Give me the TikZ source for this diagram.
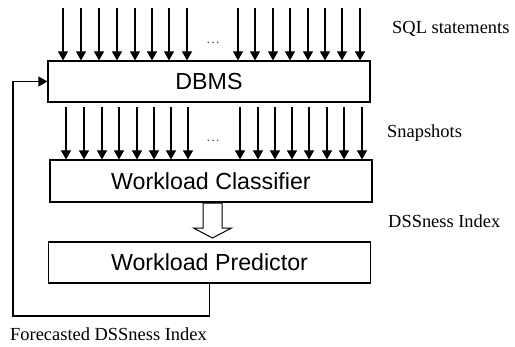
\documentclass[tikz,border=0pt]{standalone}
\usepackage{fontspec}
\setmainfont{Liberation Serif}
\newfontfamily\boxfont{Liberation Sans}
\usetikzlibrary{arrows.meta}
\tikzset{
  box/.style={draw, line width=1.2bp, minimum width=322bp, minimum height=41bp, inner sep=0pt, font=\boxfont\fontsize{23.3}{27}\selectfont},
  arr/.style={line width=1.1bp, -{Triangle[width=10bp,length=9bp]}},
  lbl/.style={anchor=base west, inner sep=0pt, font=\fontsize{18.5}{22}\selectfont},
  dots/.style={inner sep=0pt, text=black!70, font=\fontsize{14}{16}\selectfont}
}
\begin{document}
\begin{tikzpicture}[x=1bp,y=-1bp]
\useasboundingbox (0,0) rectangle (515,346);
\node[box] (dbms) at (209,81.5) {DBMS};
\node[box, minimum height=42bp] (clf) at (211,181) {Workload Classifier};
\node[box] (pred) at (209.5,262.5) {Workload Predictor};
% SQL statement arrows
\foreach \x [count=\i] in {63,81,99,117,135,152,169,187,238,255,273,290,308,325,342,360} {
  \coordinate (s\i) at (\x,8);
  \draw[arr] (s\i) -- (s\i |- dbms.north);
}
\node[dots] (d1) at (213,43) {\dots};
% snapshot arrows
\foreach \x [count=\i] in {66,84,102,119,137,154,171,188,240,258,275,292,309,327,344,362} {
  \coordinate (p\i) at (\x,107);
  \draw[arr] (p\i) -- (p\i |- clf.north);
}
\node[dots] (d2) at (213,141) {\dots};
% hollow arrow
\coordinate (ha) at (212.5,203);
\draw[line width=1bp, fill=white] (ha) ++(-9.5,0) -- ++(0,25) -- ++(-9.5,0) -- (212.5,238) -- (231.5,228) -- (222,228) -- (222,203) -- cycle;
% feedback
\coordinate (fb) at (13,316);
\draw[arr, line width=1.3bp] (pred.south) |- (fb) |- (dbms.west);
% labels
\node[lbl] (l1) at (392,33) {SQL statements};
\node[lbl] (l2) at (387,137) {Snapshots};
\node[lbl] (l3) at (388,227) {DSSness Index};
\node[lbl] (l4) at (10,340) {Forecasted DSSness Index};
\end{tikzpicture}
\end{document}
